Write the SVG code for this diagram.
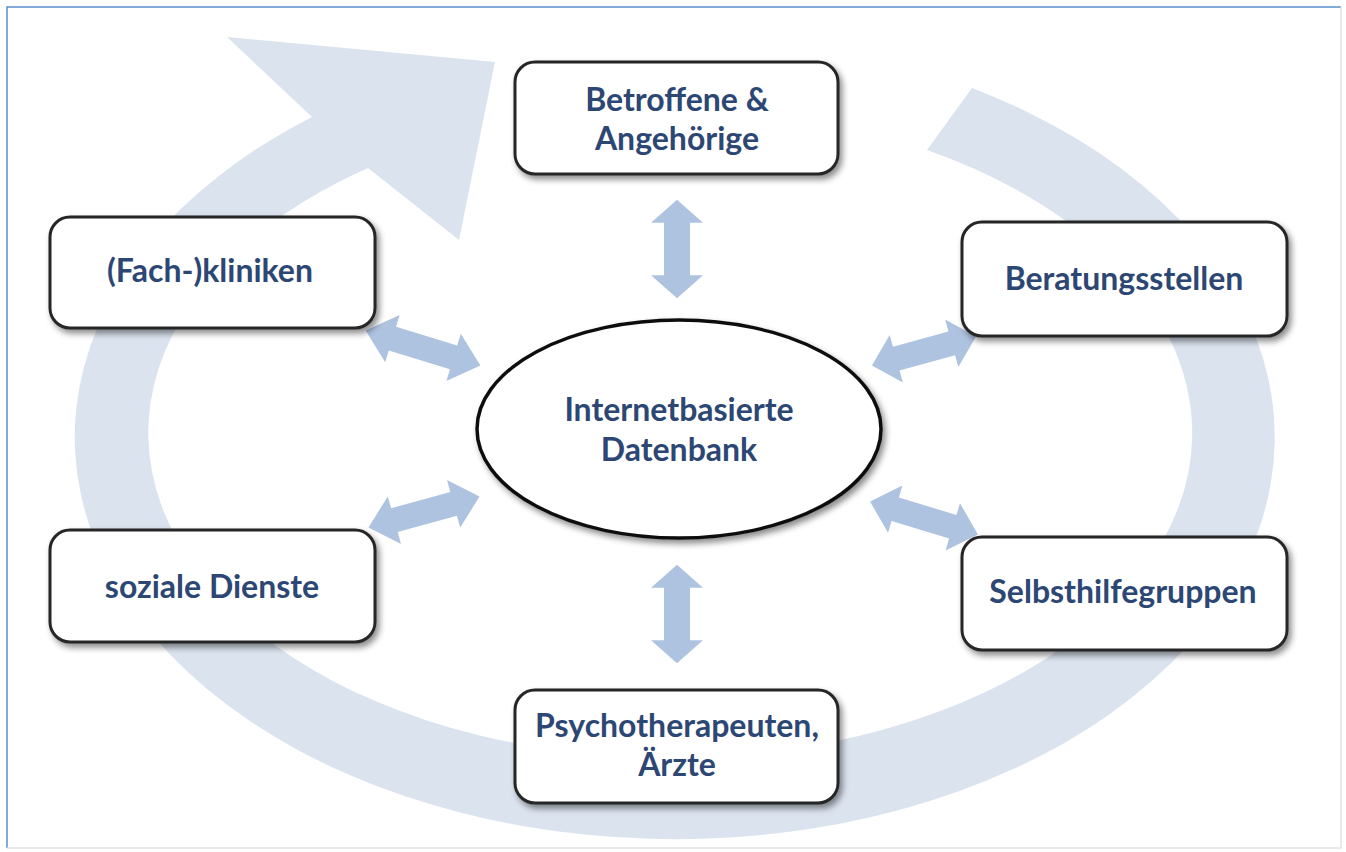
<svg xmlns="http://www.w3.org/2000/svg" width="1346" height="852" viewBox="0 0 1346 852">
<defs>
<style>
.box{fill:#ffffff;stroke:#262626;stroke-width:3;filter:url(#sh)}
.lbl{font-family:Lato,"Open Sans","Liberation Sans",sans-serif;font-weight:bold;font-size:32px;fill:#2d4774;text-anchor:middle}
.dbl{fill:#aec3df}
</style>
<filter id="sh" x="-10%" y="-10%" width="125%" height="130%">
<feDropShadow dx="3" dy="4" stdDeviation="3" flood-color="#000" flood-opacity="0.45"/>
</filter>
<polygon id="darrow" points="-60,0 -32,-26 -32,-13 32,-13 32,-26 60,0 32,26 32,13 -32,13 -32,26"/>
</defs>
<rect x="0" y="0" width="1346" height="852" fill="#ffffff"/>
<path d="M7 848 V7 H1341" fill="none" stroke="#5b8fcb" stroke-width="1.5"/>
<path d="M1341 7 V848 H7" fill="none" stroke="#e2e2e2" stroke-width="1.5"/>
<g id="cycle">
<path d="M972 88 A600 402 0 1 1 312 117 L227 37 L495 62 L459 240 L368 168 A522 325 0 1 0 927 150 Z" fill="#dbe3ef"/>
</g>
<g id="connectors" class="dbl">
<use href="#darrow" transform="translate(677 249) rotate(90) scale(0.82 1)"/>
<use href="#darrow" transform="translate(677 614) rotate(90) scale(0.82 1)"/>
<use href="#darrow" transform="translate(423 348) rotate(17) scale(1 0.95)"/>
<use href="#darrow" transform="translate(924 351) rotate(-15.5) scale(0.9 0.95)"/>
<use href="#darrow" transform="translate(424 512) rotate(-15.5) scale(0.96 0.95)"/>
<use href="#darrow" transform="translate(924 518) rotate(17) scale(0.94 0.95)"/>
</g>
<g id="center">
<ellipse cx="679" cy="429" rx="202" ry="109" fill="#ffffff" stroke="#111" stroke-width="3.5" filter="url(#sh)"/>
<text class="lbl" x="679" y="421">Internetbasierte</text>
<text class="lbl" x="679" y="461">Datenbank</text>
</g>
<g id="betroffene">
<rect class="box" x="515" y="62" width="323" height="112" rx="20"/>
<text class="lbl" x="677" y="111">Betroffene &amp;</text>
<text class="lbl" x="677" y="150">Angehörige</text>
</g>
<g id="kliniken">
<rect class="box" x="50" y="217" width="325" height="111" rx="20"/>
<text class="lbl" x="210" y="282">(Fach-)kliniken</text>
</g>
<g id="beratung">
<rect class="box" x="962" y="222" width="325" height="114" rx="20"/>
<text class="lbl" x="1124" y="290">Beratungsstellen</text>
</g>
<g id="soziale">
<rect class="box" x="50" y="530" width="325" height="112" rx="20"/>
<text class="lbl" x="212" y="598">soziale Dienste</text>
</g>
<g id="selbsthilfe">
<rect class="box" x="962" y="537" width="325" height="113" rx="20"/>
<text class="lbl" x="1123" y="603">Selbsthilfegruppen</text>
</g>
<g id="psycho">
<rect class="box" x="515" y="690" width="323" height="113" rx="20"/>
<text class="lbl" x="677" y="737">Psychotherapeuten,</text>
<text class="lbl" x="677" y="776">Ärzte</text>
</g>
</svg>
